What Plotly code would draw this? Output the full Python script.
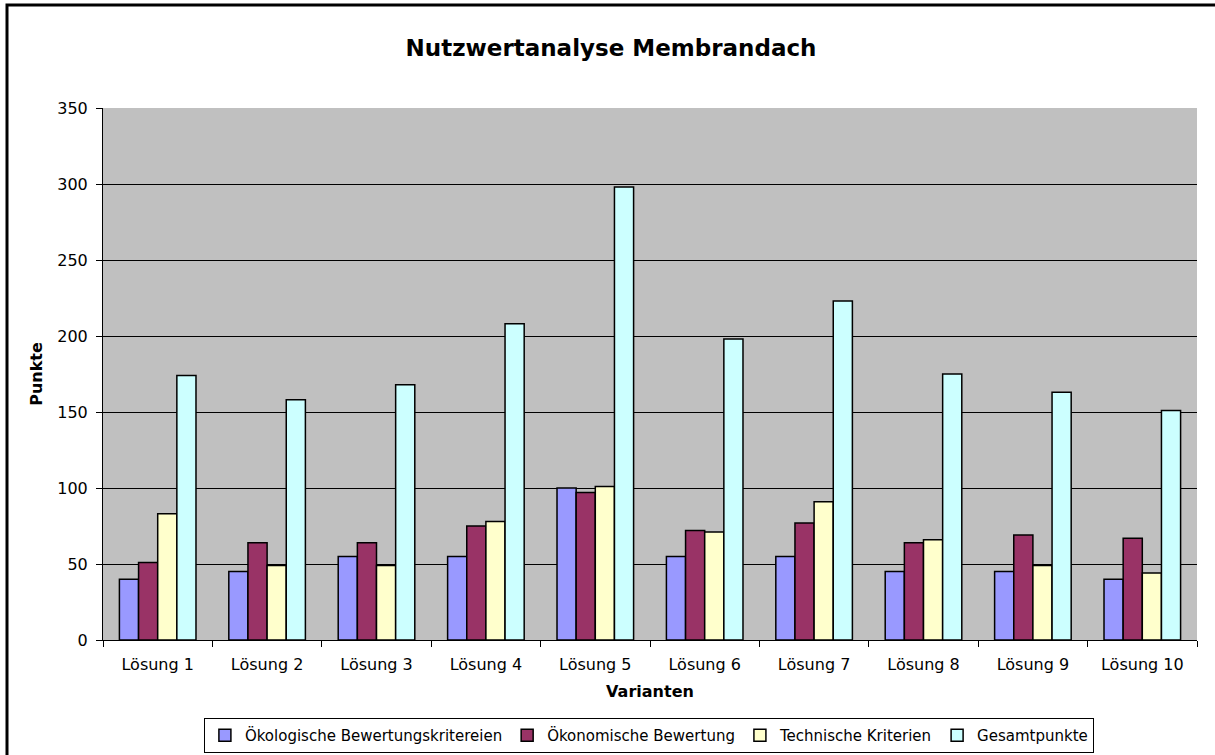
import plotly.graph_objects as go

categories = ["Lösung 1", "Lösung 2", "Lösung 3", "Lösung 4", "Lösung 5",
              "Lösung 6", "Lösung 7", "Lösung 8", "Lösung 9", "Lösung 10"]
oekologisch = [40, 45, 55, 55, 100, 55, 55, 45, 45, 40]
oekonomisch = [51, 64, 64, 75, 97, 72, 77, 64, 69, 67]
technisch = [83, 49, 49, 78, 101, 71, 91, 66, 49, 44]
gesamt = [174, 158, 168, 208, 298, 198, 223, 175, 163, 151]

series_names = ["Ökologische Bewertungskritereien", "Ökonomische Bewertung",
                "Technische Kriterien", "Gesamtpunkte"]
series_colors = ["#9999FF", "#993366", "#FFFFCC", "#CCFFFF"]
series_values = [oekologisch, oekonomisch, technisch, gesamt]

FONT = "DejaVu Sans, Verdana, sans-serif"

fig = go.Figure()
for name, color, vals in zip(series_names, series_colors, series_values):
    fig.add_trace(go.Bar(
        x=categories, y=vals, name=name,
        marker=dict(color=color, line=dict(color="#000000", width=1.5)),
    ))

fig.update_layout(
    width=1215, height=755,
    margin=dict(l=103, r=18, t=108, b=115, autoexpand=False),
    paper_bgcolor="#FFFFFF",
    plot_bgcolor="#C0C0C0",
    barmode="group",
    bargap=0.30,
    bargroupgap=0,
    font=dict(family=FONT, size=16, color="#000000"),
    title=dict(
        text="<b>Nutzwertanalyse Membrandach</b>",
        x=611 / 1215, xanchor="center",
        y=1 - 48 / 755, yanchor="middle",
        font=dict(family=FONT, size=23, color="#000000"),
    ),
    legend=dict(
        orientation="h",
        x=0.499, xanchor="center",
        y=(640 - 718) / 532, yanchor="top",
        bgcolor="#FFFFFF",
        bordercolor="#000000", borderwidth=1,
        font=dict(family=FONT, size=15, color="#000000"),
        itemwidth=30,
        traceorder="normal",
    ),
    showlegend=True,
)

fig.update_xaxes(
    showline=True, linecolor="#000000", linewidth=1,
    ticks="outside", ticklen=6, tickcolor="#000000", tickwidth=1,
    tickson="boundaries",
    ticklabelstandoff=10,
    showgrid=False,
    automargin=False,
    tickfont=dict(family=FONT, size=16),
    title=dict(text="<b>Varianten</b>", font=dict(family=FONT, size=16), standoff=12),
)
fig.update_yaxes(
    range=[0, 350], dtick=50,
    showline=True, linecolor="#000000", linewidth=1,
    ticks="outside", ticklen=6, tickcolor="#000000", tickwidth=1,
    ticklabelstandoff=5,
    showgrid=True, gridcolor="#000000", gridwidth=1,
    zeroline=False,
    automargin=False,
    tickfont=dict(family=FONT, size=16),
    title=dict(text="<b>Punkte</b>", font=dict(family=FONT, size=16), standoff=10),
)

# outer chart-area border (left and top visible in reference)
fig.add_shape(
    type="rect", xref="paper", yref="paper",
    x0=(7 - 103) / 1094, x1=1.2,
    y0=-0.5, y1=(640 - 5) / 532,
    line=dict(color="#000000", width=3),
    fillcolor="rgba(0,0,0,0)", layer="below",
)

fig.write_html("out.html", config={"displayModeBar": False},
               post_script="document.body.style.margin='0';")
